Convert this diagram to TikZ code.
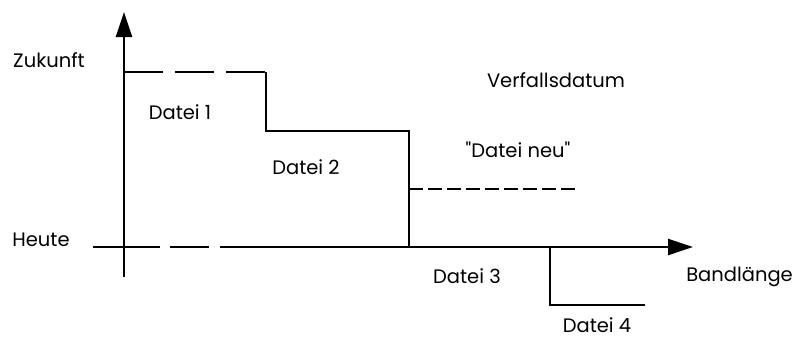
\documentclass[tikz,border=0pt]{standalone}
\usepackage{fontspec}
\setmainfont{Poppins}[Ligatures=TeXOff]
\usetikzlibrary{arrows.meta}
\begin{document}
\begin{tikzpicture}[
	x=1pt, y=-1pt,
	txt/.style={ inner sep=0pt, font=\fontsize{19.5}{23}\selectfont },
	stufe/.style={ line width=2.4pt },
	achse/.style={ line width=2.4pt, -{Triangle[length=25pt,width=16pt]} }
]
\useasboundingbox (0,0) rectangle (795,338);

% Achsen
\coordinate (O) at (124,247);
\coordinate (ytip) at (124,12);
\coordinate (ybot) at (124,277);
\coordinate (hl) at (93,247);
\coordinate (hm) at (220,247);
\coordinate (xtip) at (693,247);
\draw [achse] (ybot) to (ytip);
\draw [stufe,dash pattern=on 67pt off 10pt on 39pt off 11pt] (hl) to (hm);
\draw [achse] (hm) to (xtip);

% Stufen
\coordinate (z0) at (124,72);
\coordinate (z1) at (266,72);
\coordinate (s1) at (266,131);
\coordinate (s2) at (409,131);
\coordinate (s3) at (409,247);
\coordinate (n0) at (409,189);
\coordinate (n1) at (579,189);
\coordinate (v0) at (550,247);
\coordinate (v1) at (550,305);
\coordinate (v2) at (645,305);
\draw [stufe,dash pattern=on 39pt off 12pt] (z0) to (z1);
\draw [stufe] (z1) to (s1) to (s2) to (s3);
\draw [stufe,dash pattern=on 14pt off 5pt] (n0) to (n1);
\draw [stufe] (v0) to (v1) to (v2);

% Beschriftung
\node at (49,60) (zuk) [txt] {Zukunft};
\node at (41,240) (heu) [txt] {Heute};
\node at (180,112) (d1) [txt] {Datei 1};
\node at (306,167) (d2) [txt] {Datei 2};
\node at (556,80) (vfd) [txt] {Verfallsdatum};
\node at (518,150) (dn) [txt] {"Datei neu"};
\node at (467,276) (d3) [txt] {Datei 3};
\node at (793,277) (bl) [txt,anchor=east] {Bandlänge};
\node at (597,325) (d4) [txt] {Datei 4};

\end{tikzpicture}
\end{document}
